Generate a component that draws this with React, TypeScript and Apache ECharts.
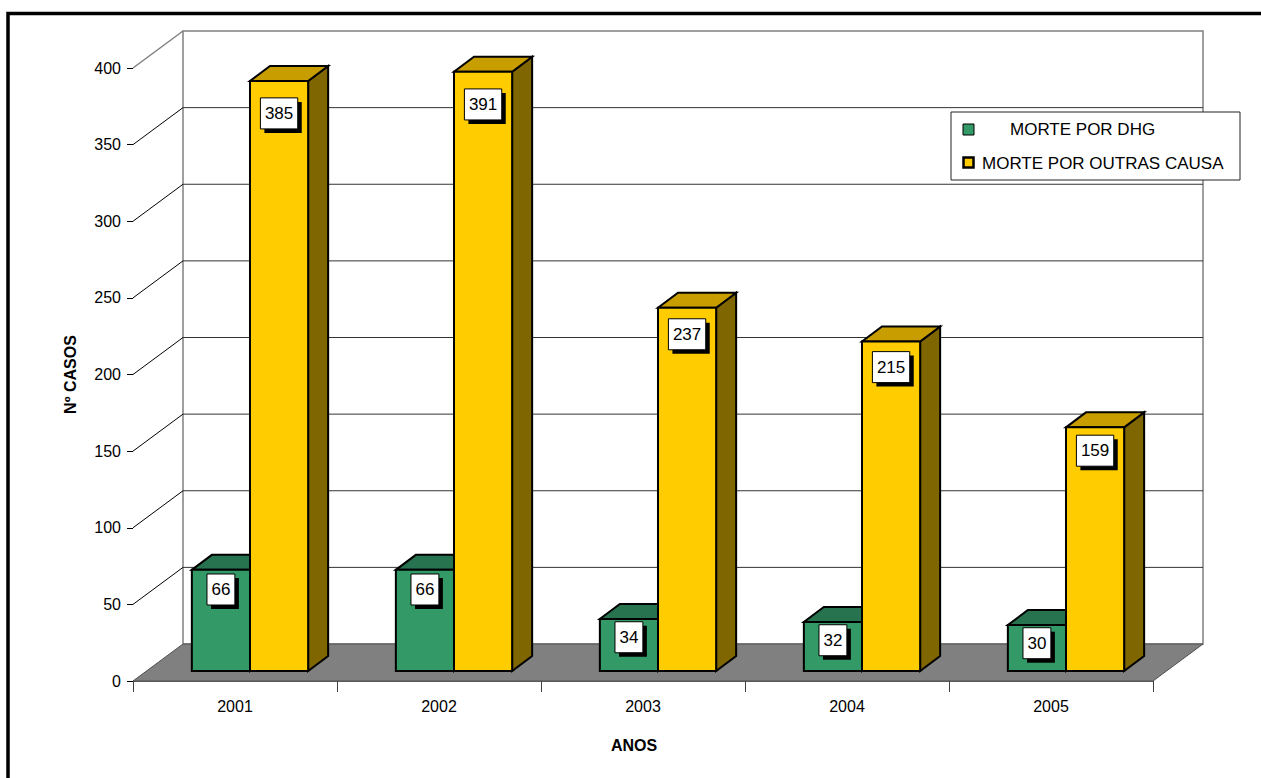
import React, { useEffect, useRef } from "react";
import * as echarts from "echarts";

const categories = ["2001", "2002", "2003", "2004", "2005"];
const seriesNames = ["MORTE POR DHG", "MORTE POR OUTRAS CAUSA"];
const dhgValues = [66, 66, 34, 32, 30];
const otherValues = [385, 391, 237, 215, 159];
const yTicks = [0, 50, 100, 150, 200, 250, 300, 350, 400];
const yMin = 0;
const yMax = 400;
const yInterval = 50;
const yTitle = "Nº CASOS";
const xTitle = "ANOS";

const FONT = "Arial, 'Liberation Sans', sans-serif";

// 3D projection offsets (pixels)
const WALL_DX = 50;
const WALL_DY = -37;
const BAR_DX = 15;
const BAR_DY = -10;
const BAR_DEPTH_DX = 20;
const BAR_DEPTH_DY = -15;

const palettes = [
  { front: "#339966", top: "#277350", side: "#1d5a3c" },
  { front: "#FFCC00", top: "#C89D00", side: "#806600" },
];

function wallRender(params: any, api: any) {
  const cs = params.coordSys;
  const left = cs.x;
  const right = cs.x + cs.width;
  const y0 = api.coord([0, yMin])[1];
  const yTop = api.coord([0, yMax])[1];
  const children: any[] = [];
  // left wall
  children.push({
    type: "polygon",
    shape: { points: [[left, yTop], [left + WALL_DX, yTop + WALL_DY], [left + WALL_DX, y0 + WALL_DY], [left, y0]] },
    style: { fill: "#ffffff" },
  });
  // back wall
  children.push({
    type: "rect",
    shape: { x: left + WALL_DX, y: yTop + WALL_DY, width: right - left, height: y0 - yTop },
    style: { fill: "#ffffff", stroke: "#808080", lineWidth: 1.5 },
  });
  yTicks.forEach((t) => {
    const y = api.coord([0, t])[1];
    if (t > yMin && t < yMax) {
      children.push({
        type: "line",
        shape: { x1: left + WALL_DX, y1: y + WALL_DY, x2: right + WALL_DX, y2: y + WALL_DY },
        style: { stroke: "#333333", lineWidth: 1 },
      });
      children.push({
        type: "line",
        shape: { x1: left, y1: y, x2: left + WALL_DX, y2: y + WALL_DY },
        style: { stroke: "#000000", lineWidth: 1 },
      });
    }
  });
  // top diagonal
  children.push({
    type: "line",
    shape: { x1: left, y1: yTop, x2: left + WALL_DX, y2: yTop + WALL_DY },
    style: { stroke: "#808080", lineWidth: 1.5 },
  });
  // floor
  children.push({
    type: "polygon",
    shape: { points: [[left, y0], [right, y0], [right + WALL_DX, y0 + WALL_DY], [left + WALL_DX, y0 + WALL_DY]] },
    style: { fill: "#808080", stroke: "#505050", lineWidth: 1 },
  });
  return { type: "group", children };
}

function makeBarRender(sIdx: number) {
  const pal = palettes[sIdx];
  return (params: any, api: any) => {
    const idx = api.value(0);
    const v = api.value(1);
    const catW = api.size([1, 0])[0];
    const barW = catW * 0.285;
    const c = api.coord([idx, v]);
    const b = api.coord([idx, 0]);
    const cx = c[0] + BAR_DX;
    const x0 = sIdx === 0 ? cx - barW : cx;
    const x1 = x0 + barW;
    const yt = c[1] + BAR_DY;
    const yb = b[1] + BAR_DY;
    const dx = BAR_DEPTH_DX;
    const dy = BAR_DEPTH_DY;
    const stroke = { stroke: "#000000", lineWidth: 2, lineJoin: "miter" };
    const text = String(v);
    const tw = text.length * 9.45;
    const bw = tw + 9;
    const bh = 31;
    const lx = (x0 + x1) / 2;
    const ly = yt + 17 + v * 0.04;
    return {
      type: "group",
      children: [
        {
          type: "polygon",
          shape: { points: [[x1, yt], [x1 + dx, yt + dy], [x1 + dx, yb + dy], [x1, yb]] },
          style: { fill: pal.side, ...stroke },
        },
        {
          type: "polygon",
          shape: { points: [[x0, yt], [x1, yt], [x1 + dx, yt + dy], [x0 + dx, yt + dy]] },
          style: { fill: pal.top, ...stroke },
        },
        {
          type: "rect",
          shape: { x: x0, y: yt, width: barW, height: yb - yt },
          style: { fill: pal.front, ...stroke },
        },
        {
          type: "rect",
          shape: { x: lx - bw / 2 + 4, y: ly - bh / 2 + 4, width: bw, height: bh },
          style: { fill: "#000000" },
        },
        {
          type: "rect",
          shape: { x: lx - bw / 2, y: ly - bh / 2, width: bw, height: bh },
          style: { fill: "#ffffff", stroke: "#000000", lineWidth: 1 },
        },
        {
          type: "text",
          style: {
            text,
            x: lx,
            y: ly,
            align: "center",
            verticalAlign: "middle",
            fontSize: 17,
            fontFamily: FONT,
            fill: "#000000",
          },
        },
      ],
    };
  };
}

export default function App() {
  const ref = useRef<HTMLDivElement>(null);
  useEffect(() => {
    if (!ref.current) return;
    const chart = echarts.init(ref.current, undefined, { renderer: "svg" });
    const seriesData = [dhgValues, otherValues];
    chart.setOption({
      animation: false,
      backgroundColor: "#ffffff",
      textStyle: { fontFamily: FONT },
      grid: { left: 133, right: 108, top: 68, bottom: 97, containLabel: false },
      xAxis: {
        type: "category",
        data: categories,
        boundaryGap: true,
        axisLine: { show: true, lineStyle: { color: "#606060", width: 1 } },
        axisTick: { show: true, length: 11, interval: 0, lineStyle: { color: "#404040" } },
        axisLabel: { fontSize: 16, color: "#000", margin: 17, fontFamily: FONT },
        splitLine: { show: false },
        name: xTitle,
        nameLocation: "middle",
        nameGap: 56,
        nameTextStyle: { fontSize: 16, fontWeight: "bold", color: "#000", fontFamily: FONT, padding: [0, 18, 0, 0] },
      },
      yAxis: {
        type: "value",
        min: yMin,
        max: yMax,
        interval: yInterval,
        axisLine: { show: true, lineStyle: { color: "#000", width: 1 } },
        axisTick: { show: true, length: 6, lineStyle: { color: "#000" } },
        axisLabel: { fontSize: 16, color: "#000", margin: 12, fontFamily: FONT },
        splitLine: { show: false },
        name: yTitle,
        nameLocation: "middle",
        nameRotate: 90,
        nameGap: 55,
        nameTextStyle: { fontSize: 16, fontWeight: "bold", color: "#000", fontFamily: FONT },
      },
      series: [
        {
          type: "custom",
          name: "walls",
          silent: true,
          clip: false,
          z: 1,
          renderItem: wallRender,
          data: [[0, 0]],
          encode: { x: 0, y: 1 },
        },
        ...seriesNames.map((name, s) => ({
          type: "custom",
          name,
          clip: false,
          z: 2 + s,
          renderItem: makeBarRender(s),
          data: seriesData[s].map((v, i) => [i, v]),
          encode: { x: 0, y: 1 },
        })),
      ],
      graphic: [
        {
          type: "rect",
          z: 100,
          shape: { x: 951, y: 112, width: 289, height: 68 },
          style: { fill: "#ffffff", stroke: "#222222", lineWidth: 1 },
        },
        {
          type: "rect",
          z: 101,
          shape: { x: 963, y: 124, width: 11, height: 11 },
          style: { fill: palettes[0].front, stroke: "#000", lineWidth: 1 },
        },
        {
          type: "text",
          z: 101,
          style: { text: seriesNames[0], x: 1010, y: 129.5, verticalAlign: "middle", fontSize: 17, fontFamily: FONT, fill: "#000" },
        },
        {
          type: "rect",
          z: 101,
          shape: { x: 963.5, y: 157.5, width: 10, height: 10 },
          style: { fill: palettes[1].front, stroke: "#000", lineWidth: 2.5 },
        },
        {
          type: "text",
          z: 101,
          style: { text: seriesNames[1], x: 982, y: 163, verticalAlign: "middle", fontSize: 17, fontFamily: FONT, fill: "#000" },
        },
        {
          type: "rect",
          z: 102,
          shape: { x: 8, y: 13.5, width: 1300, height: 800 },
          style: { fill: "none", stroke: "#000", lineWidth: 3.5 },
        },
      ],
    });
    return () => chart.dispose();
  }, []);
  return <div ref={ref} style={{ position: "fixed", left: 0, top: 0, width: 1261, height: 778 }} />;
}
